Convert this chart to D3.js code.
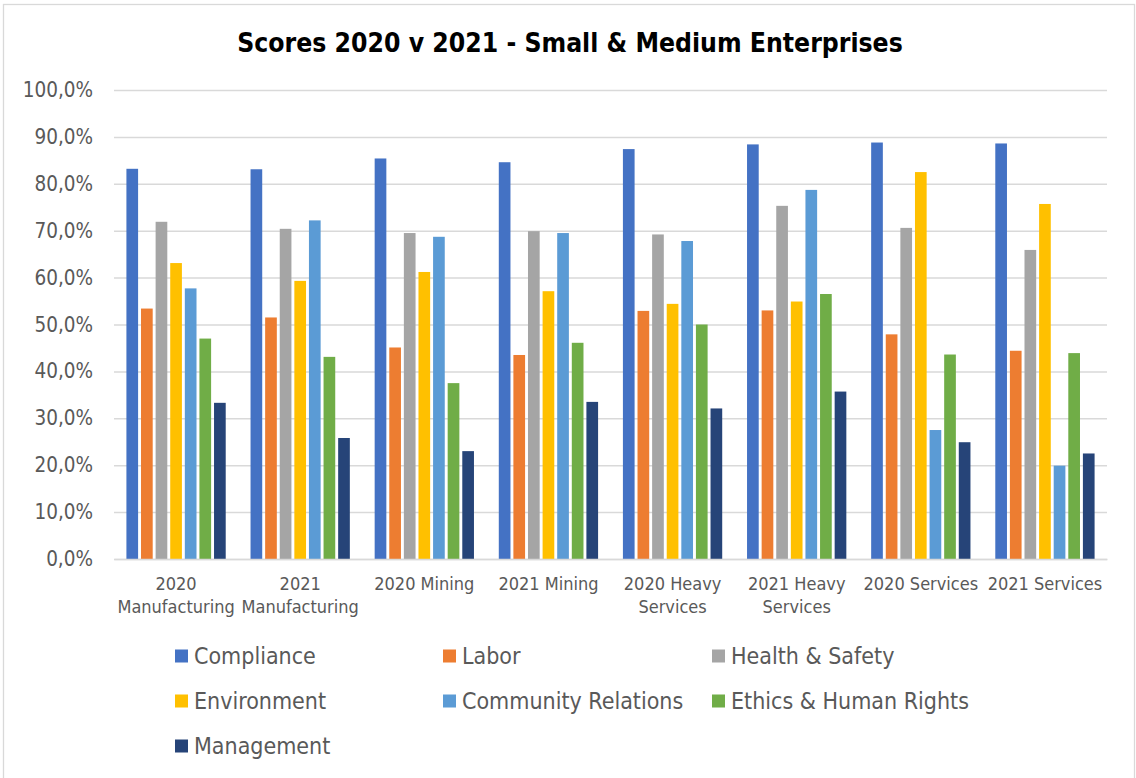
<!DOCTYPE html>
<html>
<head>
<meta charset="utf-8">
<script src="https://cdn.jsdelivr.net/npm/d3@7"></script>
<style>
  body { margin: 0; background: #fff; }
  svg text { font-family: "DejaVu Sans Condensed", "DejaVu Sans", sans-serif; font-stretch: condensed; }
</style>
</head>
<body>
<div id="canvas"></div>
<script>
// chart data
var categories = ["2020 Manufacturing", "2021 Manufacturing", "2020 Mining", "2021 Mining",
  "2020 Heavy Services", "2021 Heavy Services", "2020 Services", "2021 Services"];
var seriesNames = ["Compliance", "Labor", "Health & Safety", "Environment",
  "Community Relations", "Ethics & Human Rights", "Management"];
var colours = ["#4472C4", "#ED7D31", "#A5A5A5", "#FFC000", "#5B9BD5", "#70AD47", "#264478"];

var compliance = [83.2, 83.1, 85.4, 84.6, 87.4, 88.4, 88.8, 88.6];
var labor      = [53.4, 51.5, 45.1, 43.5, 52.9, 53.0, 47.9, 44.4];
var health     = [71.9, 70.4, 69.5, 69.9, 69.2, 75.3, 70.6, 65.9];
var environment= [63.1, 59.3, 61.2, 57.1, 54.4, 54.9, 82.5, 75.7];
var community  = [57.7, 72.2, 68.7, 69.5, 67.8, 78.7, 27.5, 19.9];
var ethics     = [47.0, 43.1, 37.5, 46.1, 50.0, 56.5, 43.6, 43.9];
var management = [33.3, 25.8, 23.0, 33.5, 32.1, 35.7, 24.9, 22.5];
var yTicks = [0, 10, 20, 30, 40, 50, 60, 70, 80, 90, 100];

var allSeries = [compliance, labor, health, environment, community, ethics, management];

var w = 1136, h = 778;
var svg = d3.select("#canvas").append("svg").attr("width", w).attr("height", h);

// outer border
svg.append("rect")
  .attr("x", 3.5).attr("y", 4.5).attr("width", 1131).attr("height", 776)
  .style("fill", "none").style("stroke", "#d9d9d9").style("stroke-width", 1.3);

svg.append("text")
  .attr("x", 570).attr("y", 52)
  .attr("text-anchor", "middle")
  .style("font-size", "26.3px").style("font-weight", "bold").style("fill", "#000")
  .text("Scores 2020 v 2021 - Small & Medium Enterprises");

var plotLeft = 114, plotRight = 1107, plotTop = 90, plotBottom = 559;

var x0 = d3.scaleBand().domain(categories).range([plotLeft, plotRight]).paddingInner(0.2).paddingOuter(0.1);
var x1 = d3.scaleBand().domain(seriesNames).range([0, x0.bandwidth()]).paddingInner(0.2);
var y = d3.scaleLinear().domain([0, 100]).range([plotBottom, plotTop]);

// grid + y labels
var yAxis = d3.axisLeft(y).tickValues(yTicks)
  .tickSize(-(plotRight - plotLeft)).tickPadding(21)
  .tickFormat(function(d) { return d.toFixed(1).replace(".", ",") + "%"; });

var gy = svg.append("g").attr("transform", "translate(" + plotLeft + ",0)").call(yAxis);
gy.select(".domain").remove();
gy.selectAll(".tick line").style("stroke", "#d9d9d9").style("stroke-width", 1.5);
gy.selectAll(".tick text").style("font-size", "20.5px").style("fill", "#595959");

// bars
for (let s = 0; s < seriesNames.length; s++) {
  svg.append("g").selectAll("rect")
    .data(allSeries[s])
    .enter().append("rect")
    .attr("x", function(d, i) { return x0(categories[i]) + x1(seriesNames[s]); })
    .attr("y", function(d) { return y(d); })
    .attr("width", x1.bandwidth())
    .attr("height", function(d) { return plotBottom - y(d); })
    .style("fill", colours[s]);
}

// x axis line and labels
var xAxis = d3.axisBottom(x0).tickSize(0).tickPadding(18);
var gx = svg.append("g").attr("transform", "translate(0," + plotBottom + ")").call(xAxis);
gx.select(".domain").style("stroke", "#d9d9d9").style("stroke-width", 1.5);
gx.selectAll(".tick text").style("font-size", "18px").style("fill", "#595959")
  .call(wrap, x0.step());

function wrap(text, width) {
  text.each(function() {
    var t = d3.select(this);
    var words = t.text().split(/\s+/).reverse();
    var word, line = [], lineNumber = 0;
    var yy = t.attr("y"), dy = parseFloat(t.attr("dy"));
    var tspan = t.text(null).append("tspan").attr("x", 0).attr("y", yy).attr("dy", dy + "em");
    while (word = words.pop()) {
      line.push(word);
      tspan.text(line.join(" "));
      if (tspan.node().getComputedTextLength() > width - 2 && line.length > 1) {
        line.pop();
        tspan.text(line.join(" "));
        line = [word];
        tspan = t.append("tspan").attr("x", 0).attr("y", yy)
          .attr("dy", (++lineNumber * 1.27 + dy) + "em").text(word);
      }
    }
  });
}

// legend
var legX = [175, 443, 712];
var legY = [656, 701, 746];
var leg = svg.append("g").selectAll("g")
  .data(seriesNames).enter().append("g")
  .attr("transform", function(d, i) {
    return "translate(" + legX[i % 3] + "," + legY[Math.floor(i / 3)] + ")";
  });
leg.append("rect")
  .attr("x", 0).attr("y", -6.5).attr("width", 13).attr("height", 13)
  .style("fill", function(d, i) { return colours[i]; });
leg.append("text")
  .attr("x", 19).attr("y", 0).attr("dy", "0.35em")
  .style("font-size", "23px").style("fill", "#595959")
  .text(function(d) { return d; });
</script>
</body>
</html>
